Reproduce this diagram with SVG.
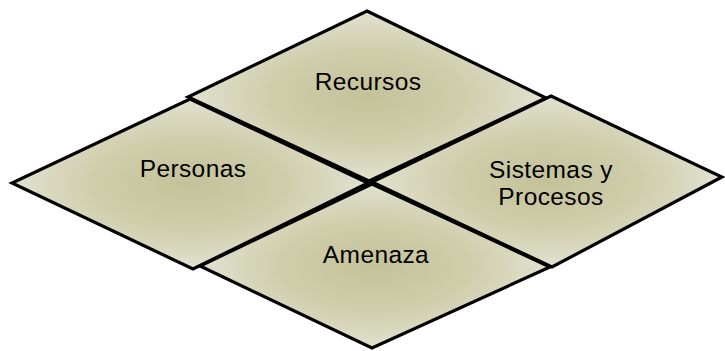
<svg xmlns="http://www.w3.org/2000/svg" width="725" height="351" viewBox="0 0 725 351">
<defs>
<radialGradient id="g" cx="0.5" cy="0.5" r="0.55">
<stop offset="0" stop-color="#c4c299"/>
<stop offset="0.5" stop-color="#cfceac"/>
<stop offset="1" stop-color="#e6e6d9"/>
</radialGradient>
<style>
.d{fill:url(#g);stroke:#000;stroke-width:3.2;stroke-linejoin:miter}
.t{font-family:"Liberation Sans",Arial,sans-serif;font-size:24.5px;letter-spacing:0.4px;fill:#000;text-anchor:middle}
</style>
</defs>
<g id="recursos">
<polygon class="d" points="367,11 546,98 369,181 188,97"/>
<text class="t" x="368" y="90">Recursos</text>
</g>
<g id="personas">
<polygon class="d" points="190,99 368,183 193,269 12,183"/>
<text class="t" x="193" y="177">Personas</text>
</g>
<g id="sistemas">
<polygon class="d" points="551,96 722,177 552,267 372,182"/>
<text class="t" x="551" y="178">Sistemas y</text>
<text class="t" x="551" y="205">Procesos</text>
</g>
<g id="amenaza">
<polygon class="d" points="372,184 550,267 372,348 200,266"/>
<text class="t" x="376" y="263">Amenaza</text>
</g>
<g id="connectors"/>
</svg>
